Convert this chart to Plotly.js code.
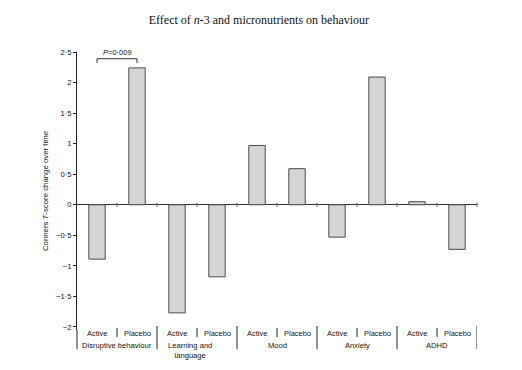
<!DOCTYPE html>
<html>
<head>
<meta charset="utf-8">
<script src="https://cdn.plot.ly/plotly-3.0.1.min.js"></script>
<style>html,body{margin:0;padding:0;background:#fff;}#chart{width:522px;height:370px;}</style>
</head>
<body>
<div id="chart"></div>
<script>
// ---- data ----
const groups = ['Disruptive behaviour', 'Learning and<br>language', 'Mood', 'Anxiety', 'ADHD'];
const arms = ['Active', 'Placebo'];
const activeValues = [-0.89, -1.77, 0.97, -0.53, 0.05];
const placeboValues = [2.24, -1.18, 0.59, 2.09, -0.73];
const yTickValues = [-2, -1.5, -1, -0.5, 0, 0.5, 1, 1.5, 2, 2.5];
const yTickLabels = ['\u22122', '\u22121\u00b75', '\u22121', '\u22120\u00b75', '0', '0\u00b75', '1', '1\u00b75', '2', '2\u00b75'];
const pLabel = '<i>P</i>=0\u00b7009';
const titleText = 'Effect of <i>n</i>-3 and micronutrients on behaviour';
const yTitleText = 'Conners <i>T</i>-score change over time';

// ---- build ----
const xs = [], ys = [], armLabels = [];
groups.forEach((g, i) => {
  xs.push(2 * i); ys.push(activeValues[i]); armLabels.push(arms[0]);
  xs.push(2 * i + 1); ys.push(placeboValues[i]); armLabels.push(arms[1]);
});
const boundaries = xs.map(x => x + 0.5);

const plotBottomPx = 330, plotHeightPx = 278;
const py = p => (plotBottomPx - p) / plotHeightPx;

const font = 'Liberation Sans, Arial, sans-serif';
const txt = '#111';
const lineCol = '#222';

const traces = [
  {
    type: 'bar', x: xs, y: ys, width: 0.41,
    marker: {color: '#d5d5d5', line: {color: '#4a4a4a', width: 1}},
    hoverinfo: 'skip'
  },
  {
    type: 'scatter', mode: 'markers', x: boundaries, y: boundaries.map(() => 0),
    marker: {symbol: 'line-ns', size: 3, line: {width: 1, color: '#555'}},
    cliponaxis: false, hoverinfo: 'skip'
  }
];

const shapes = [];
// y axis extension below plot
shapes.push({type: 'line', xref: 'paper', yref: 'paper', x0: 0, x1: 0, y0: 0, y1: py(349), line: {color: lineCol, width: 1}});
boundaries.forEach((b, k) => {
  const long = (k % 2 === 1);
  shapes.push({
    type: 'line', xref: 'x', yref: 'paper', x0: b, x1: b,
    y0: long ? py(326) : py(328), y1: long ? py(349) : py(337),
    line: {color: lineCol, width: 1}
  });
});
// significance bracket between the two disruptive behaviour bars
shapes.push({type: 'path', xref: 'x', yref: 'y',
  path: `M ${xs[0]} 2.32 L ${xs[0]} 2.39 L ${xs[1]} 2.39 L ${xs[1]} 2.32`,
  line: {color: '#333', width: 1}});

const annotations = [];
xs.forEach((x, i) => {
  annotations.push({x: x, y: py(333), xref: 'x', yref: 'paper', text: armLabels[i], showarrow: false,
    xanchor: 'center', yanchor: 'middle', font: {family: font, size: 7.5, color: txt}});
});
groups.forEach((g, i) => {
  annotations.push({x: 2 * i + 0.5, y: py(339), xref: 'x', yref: 'paper', text: g, showarrow: false,
    xanchor: 'center', yanchor: 'top', xshift: g.indexOf('<br>') >= 0 ? -7 : 0,
    font: {family: font, size: 7.6, color: txt}});
});
annotations.push({x: (xs[0] + xs[1]) / 2, y: 2.39, xref: 'x', yref: 'y', yanchor: 'bottom', yshift: 0,
  text: pLabel, showarrow: false, font: {family: font, size: 7.5, color: txt}});

const layout = {
  width: 522, height: 370,
  margin: {l: 77, r: 45, t: 52, b: 40},
  paper_bgcolor: '#fff', plot_bgcolor: '#fff',
  showlegend: false,
  title: {text: titleText, font: {family: 'Liberation Serif, Times New Roman, serif', size: 12, color: txt},
    xref: 'container', x: 0.496, xanchor: 'center', yref: 'container', y: 1 - 20 / 370, yanchor: 'middle'},
  xaxis: {range: [-0.5, 9.5], showticklabels: false, showgrid: false, zeroline: false, showline: false, ticks: '', fixedrange: true},
  yaxis: {range: [-2.05, 2.5], tickvals: yTickValues, ticktext: yTickLabels, ticks: 'outside', ticklen: 3,
    tickcolor: lineCol, tickwidth: 1, showline: true, linecolor: lineCol, linewidth: 1,
    zeroline: true, zerolinecolor: '#333', zerolinewidth: 1, showgrid: false,
    tickfont: {family: font, size: 7.6, color: txt},
    title: {text: yTitleText, font: {family: font, size: 7.8, color: txt}, standoff: 6},
    automargin: false, fixedrange: true},
  shapes: shapes,
  annotations: annotations,
  bargap: 0
};

Plotly.newPlot('chart', traces, layout, {displayModeBar: false, staticPlot: true});
</script>
</body>
</html>
